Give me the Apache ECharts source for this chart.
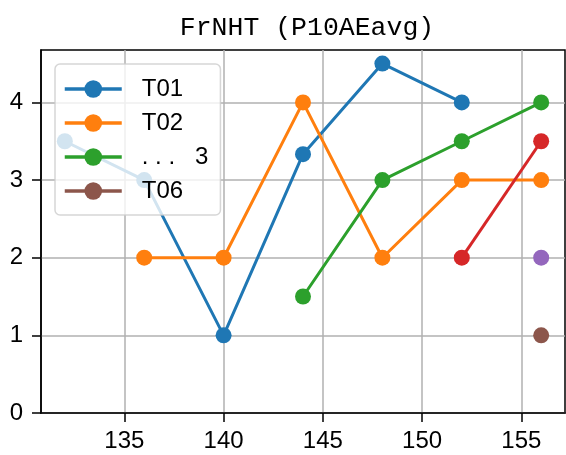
<!DOCTYPE html>
<html><head><meta charset="utf-8">
<script src="https://cdn.jsdelivr.net/npm/echarts@6/dist/echarts.min.js"></script>
<style>html,body{margin:0;padding:0;background:#fff}#c{width:566px;height:455px}</style>
</head><body><div id="c"></div>
<script>
const title = 'FrNHT (P10AEavg)';
const xTicks = [135, 140, 145, 150, 155];
const yTicks = [0, 1, 2, 3, 4];
const seriesNames = ['T01', 'T02', 'T03', 'T04', 'T05', 'T06'];
const colors = ['#1f77b4', '#ff7f0e', '#2ca02c', '#d62728', '#9467bd', '#8c564b'];
const t01 = [[132, 3.5], [136, 3], [140, 1], [144, 3.333], [148, 4.5], [152, 4]];
const t02 = [[136, 2], [140, 2], [144, 4], [148, 2], [152, 3], [156, 3]];
const t03 = [[144, 1.5], [148, 3], [152, 3.5], [156, 4]];
const t04 = [[152, 2], [156, 3.5]];
const t05 = [[156, 2]];
const t06 = [[156, 1]];
const allData = [t01, t02, t03, t04, t05, t06];
const legendShown = ['T01', 'T02', 'T03', 'T06'];
const legendLabels = {T01: 'T01', T02: 'T02', T03: '. . .   3', T06: 'T06'};

const font = '"Liberation Sans Narrow", "Liberation Sans", sans-serif';
const titleFont = '"Liberation Mono", "DejaVu Sans Mono", monospace';
const chart = echarts.init(document.getElementById('c'), null, {renderer: 'canvas'});
chart.setOption({
  animation: false,
  title: {text: title, left: 302, top: 9, textAlign: 'center',
    textStyle: {fontFamily: titleFont, fontSize: 26.5, fontWeight: 'normal', color: '#000'}},
  grid: {left: 41, right: 1, top: 50, bottom: 42, show: true, borderColor: '#000', borderWidth: 1.5, backgroundColor: 'transparent'},
  legend: {
    data: legendShown, left: 55, top: 64, orient: 'vertical', itemGap: 10,
    itemWidth: 57, itemHeight: 22, padding: [13, 12, 12, 8],
    backgroundColor: 'rgba(255,255,255,0.8)', borderColor: 'rgba(204,204,204,0.8)', borderWidth: 1.5, borderRadius: 5,
    lineStyle: {width: 3.5},
    formatter: n => legendLabels[n],
    textStyle: {fontFamily: font, fontSize: 24, color: '#000', padding: [0, 0, 0, 15], width: 63}
  },
  xAxis: {
    type: 'value', min: 130.8, max: 157.2,
    axisLine: {show: true, lineStyle: {color: '#000', width: 1.5}},
    axisTick: {show: true, length: 9, lineStyle: {color: '#000', width: 1.5}, customValues: xTicks},
    axisLabel: {customValues: xTicks, fontFamily: font, fontSize: 24, color: '#000', margin: 16},
    splitLine: {show: true, lineStyle: {color: '#b0b0b0', width: 1.5}}
  },
  yAxis: {
    type: 'value', min: 0, max: 4.675,
    axisLine: {show: true, lineStyle: {color: '#000', width: 1.5}},
    axisTick: {show: true, length: 9, lineStyle: {color: '#000', width: 1.5}, customValues: yTicks},
    axisLabel: {customValues: yTicks, fontFamily: font, fontSize: 24, color: '#000', margin: 18},
    splitLine: {show: true, lineStyle: {color: '#b0b0b0', width: 1.5}}
  },
  series: seriesNames.map((n, i) => ({
    name: n, type: 'line', data: allData[i], color: colors[i],
    symbol: 'circle', symbolSize: 16, showSymbol: true,
    lineStyle: {width: 3, color: colors[i]}, itemStyle: {color: colors[i]},
    clip: false
  }))
});
</script></body></html>
